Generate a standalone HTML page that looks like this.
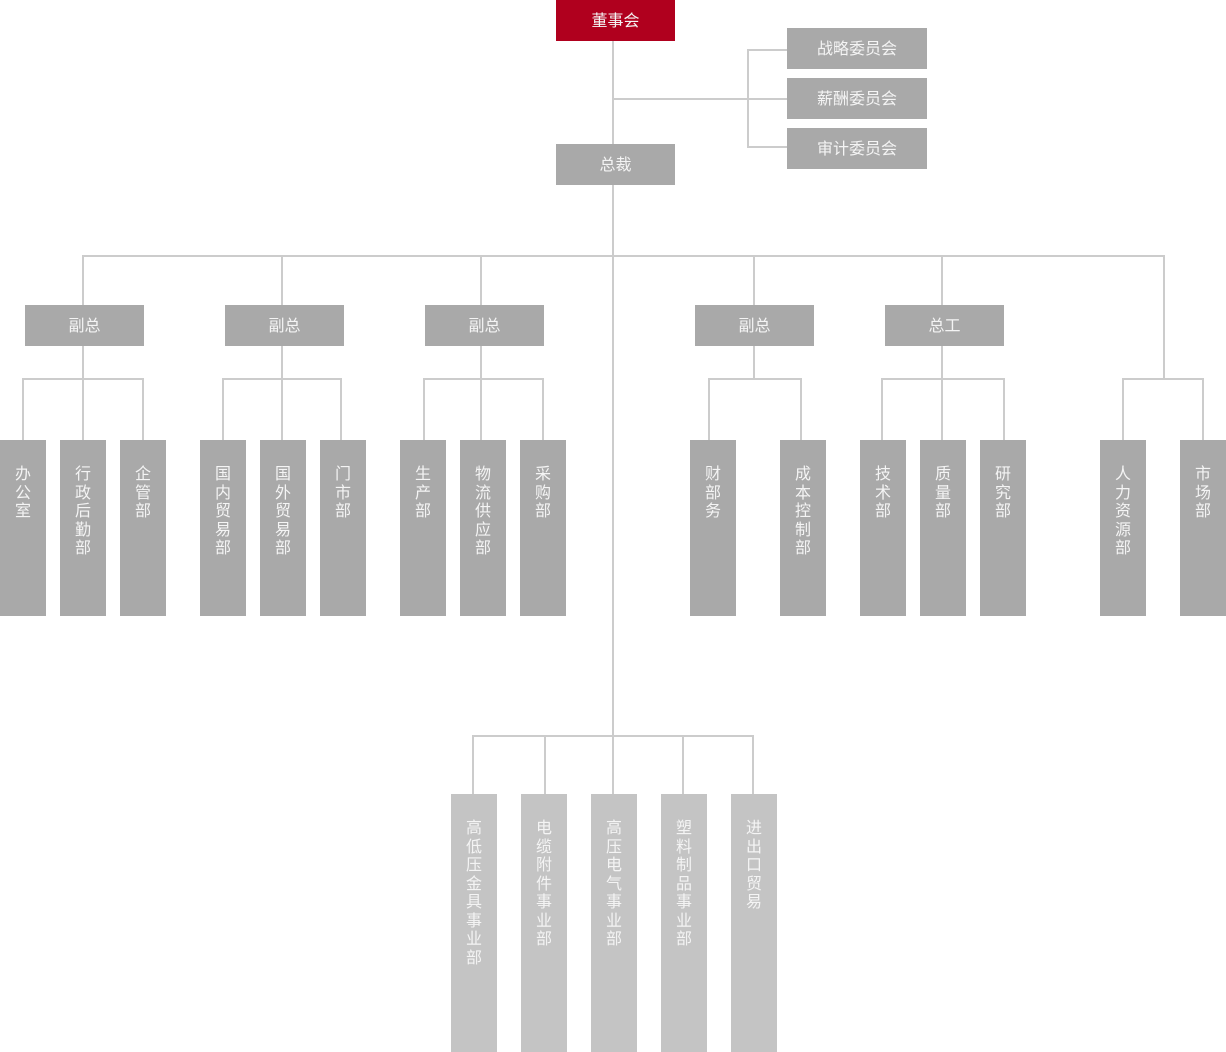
<!DOCTYPE html>
<html><head><meta charset="utf-8"><style>
body{margin:0;width:1226px;height:1052px;background:#fff;position:relative;overflow:hidden;font-family:"Liberation Sans","Noto Sans CJK SC",sans-serif;}
.b{position:absolute;background:#a9a9a9;color:#f4f4f4;font-size:16px;text-align:center;}
.h{height:41px;line-height:44px;width:119px;}
.v{width:46px;height:176px;top:440px;padding-top:26px;box-sizing:border-box;line-height:18.5px;}
.w{background:#c4c4c4;width:46px;height:258px;top:794px;padding-top:26px;box-sizing:border-box;line-height:18.5px;}
.l{position:absolute;background:#cccccc;}
</style></head><body>
<div class="l" style="left:612px;top:41px;width:2px;height:695px"></div>
<div class="l" style="left:612px;top:98px;width:175px;height:2px"></div>
<div class="l" style="left:747px;top:49px;width:2px;height:99px"></div>
<div class="l" style="left:747px;top:49px;width:40px;height:2px"></div>
<div class="l" style="left:747px;top:146px;width:40px;height:2px"></div>
<div class="l" style="left:82px;top:255px;width:1083px;height:2px"></div>
<div class="l" style="left:82px;top:255px;width:2px;height:50px"></div>
<div class="l" style="left:281px;top:255px;width:2px;height:50px"></div>
<div class="l" style="left:480px;top:255px;width:2px;height:50px"></div>
<div class="l" style="left:753px;top:255px;width:2px;height:50px"></div>
<div class="l" style="left:941px;top:255px;width:2px;height:50px"></div>
<div class="l" style="left:1163px;top:255px;width:2px;height:125px"></div>
<div class="l" style="left:82px;top:346px;width:2px;height:34px"></div>
<div class="l" style="left:281px;top:346px;width:2px;height:34px"></div>
<div class="l" style="left:480px;top:346px;width:2px;height:34px"></div>
<div class="l" style="left:753px;top:346px;width:2px;height:34px"></div>
<div class="l" style="left:941px;top:346px;width:2px;height:34px"></div>
<div class="l" style="left:22px;top:378px;width:122px;height:2px"></div>
<div class="l" style="left:222px;top:378px;width:120px;height:2px"></div>
<div class="l" style="left:423px;top:378px;width:121px;height:2px"></div>
<div class="l" style="left:708px;top:378px;width:94px;height:2px"></div>
<div class="l" style="left:881px;top:378px;width:124px;height:2px"></div>
<div class="l" style="left:1122px;top:378px;width:82px;height:2px"></div>
<div class="l" style="left:22px;top:378px;width:2px;height:62px"></div>
<div class="l" style="left:82px;top:378px;width:2px;height:62px"></div>
<div class="l" style="left:142px;top:378px;width:2px;height:62px"></div>
<div class="l" style="left:222px;top:378px;width:2px;height:62px"></div>
<div class="l" style="left:281px;top:378px;width:2px;height:62px"></div>
<div class="l" style="left:340px;top:378px;width:2px;height:62px"></div>
<div class="l" style="left:423px;top:378px;width:2px;height:62px"></div>
<div class="l" style="left:480px;top:378px;width:2px;height:62px"></div>
<div class="l" style="left:542px;top:378px;width:2px;height:62px"></div>
<div class="l" style="left:708px;top:378px;width:2px;height:62px"></div>
<div class="l" style="left:800px;top:378px;width:2px;height:62px"></div>
<div class="l" style="left:881px;top:378px;width:2px;height:62px"></div>
<div class="l" style="left:941px;top:378px;width:2px;height:62px"></div>
<div class="l" style="left:1003px;top:378px;width:2px;height:62px"></div>
<div class="l" style="left:1122px;top:378px;width:2px;height:62px"></div>
<div class="l" style="left:1202px;top:378px;width:2px;height:62px"></div>
<div class="l" style="left:472px;top:735px;width:282px;height:2px"></div>
<div class="l" style="left:472px;top:735px;width:2px;height:59px"></div>
<div class="l" style="left:544px;top:735px;width:2px;height:59px"></div>
<div class="l" style="left:612px;top:735px;width:2px;height:59px"></div>
<div class="l" style="left:682px;top:735px;width:2px;height:59px"></div>
<div class="l" style="left:752px;top:735px;width:2px;height:59px"></div>
<div class="b h" style="left:556px;top:0;background:#b0001e">董事会</div>
<div class="b h" style="left:787px;top:28px;width:140px">战略委员会</div>
<div class="b h" style="left:787px;top:78px;width:140px">薪酬委员会</div>
<div class="b h" style="left:787px;top:128px;width:140px">审计委员会</div>
<div class="b h" style="left:556px;top:144px">总裁</div>
<div class="b h" style="left:25px;top:305px">副总</div>
<div class="b h" style="left:225px;top:305px">副总</div>
<div class="b h" style="left:425px;top:305px">副总</div>
<div class="b h" style="left:695px;top:305px">副总</div>
<div class="b h" style="left:885px;top:305px">总工</div>
<div class="b v" style="left:0">办<br>公<br>室</div>
<div class="b v" style="left:60px">行<br>政<br>后<br>勤<br>部</div>
<div class="b v" style="left:120px">企<br>管<br>部</div>
<div class="b v" style="left:200px">国<br>内<br>贸<br>易<br>部</div>
<div class="b v" style="left:260px">国<br>外<br>贸<br>易<br>部</div>
<div class="b v" style="left:320px">门<br>市<br>部</div>
<div class="b v" style="left:400px">生<br>产<br>部</div>
<div class="b v" style="left:460px">物<br>流<br>供<br>应<br>部</div>
<div class="b v" style="left:520px">采<br>购<br>部</div>
<div class="b v" style="left:690px">财<br>部<br>务</div>
<div class="b v" style="left:780px">成<br>本<br>控<br>制<br>部</div>
<div class="b v" style="left:860px">技<br>术<br>部</div>
<div class="b v" style="left:920px">质<br>量<br>部</div>
<div class="b v" style="left:980px">研<br>究<br>部</div>
<div class="b v" style="left:1100px">人<br>力<br>资<br>源<br>部</div>
<div class="b v" style="left:1180px">市<br>场<br>部</div>
<div class="b w" style="left:451px">高<br>低<br>压<br>金<br>具<br>事<br>业<br>部</div>
<div class="b w" style="left:521px">电<br>缆<br>附<br>件<br>事<br>业<br>部</div>
<div class="b w" style="left:591px">高<br>压<br>电<br>气<br>事<br>业<br>部</div>
<div class="b w" style="left:661px">塑<br>料<br>制<br>品<br>事<br>业<br>部</div>
<div class="b w" style="left:731px">进<br>出<br>口<br>贸<br>易</div>
</body></html>
